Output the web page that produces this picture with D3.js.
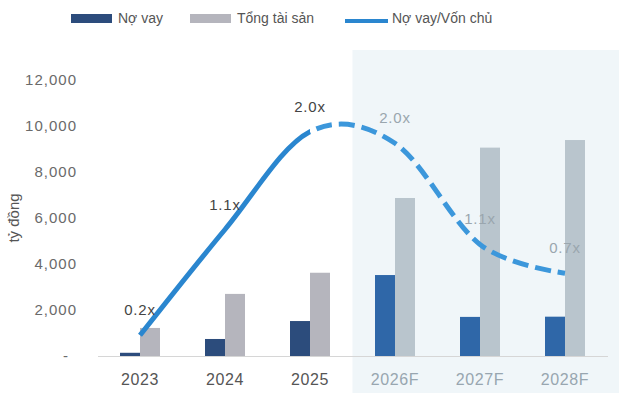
<!DOCTYPE html>
<html>
<head>
<meta charset="utf-8">
<script src="https://cdn.jsdelivr.net/npm/d3@7"></script>
<style>
  body { margin: 0; background: #fff; }
  svg { display: block; font-family: "Liberation Sans", Arial, sans-serif; }
</style>
</head>
<body>
<svg id="chart" width="619" height="393"></svg>
<script>
// Data
const years = ["2023", "2024", "2025", "2026F", "2027F", "2028F"];
const debt = [140, 740, 1520, 3520, 1700, 1710];        // Nợ vay, tỷ đồng
const assets = [1220, 2700, 3620, 6870, 9060, 9390];    // Tổng tài sản, tỷ đồng
const ratio = [0.18, 1.10, 1.95, 1.85, 0.97, 0.72];     // Nợ vay/Vốn chủ (line position)
const ratioLabels = ["0.2x", "1.1x", "2.0x", "2.0x", "1.1x", "0.7x"];
const yTicks = [0, 2000, 4000, 6000, 8000, 10000, 12000];
const seriesNames = ["Nợ vay", "Tổng tài sản", "Nợ vay/Vốn chủ"];

const isForecast = y => y.endsWith("F");

const svg = d3.select("#chart");

const x = d3.scaleBand().domain(years).range([97.5, 607.5]).padding(0);
const xSub = d3.scaleBand().domain(["debt", "assets"]).range([-20, 20]);
const y = d3.scaleLinear().domain([0, 12000]).range([356, 80]);
const yRatio = d3.scaleLinear().domain([0, 2.4]).range([356, 80]);
const cx = d => x(d) + x.bandwidth() / 2;

// forecast shading
const firstF = years.find(isForecast);
svg.append("rect")
  .attr("x", x(firstF))
  .attr("y", 50)
  .attr("width", 619 - x(firstF))
  .attr("height", 343)
  .attr("fill", "#f0f6f9");

// y axis
const yAxis = svg.append("g")
  .attr("transform", "translate(77,0)")
  .call(d3.axisLeft(y).tickValues(yTicks).tickSize(0).tickPadding(0)
    .tickFormat(d => d === 0 ? "-" : d3.format(",")(d)));
yAxis.select(".domain").remove();
yAxis.selectAll("text")
  .attr("fill", "#6a6a6a")
  .style("font-size", "15px")
  .style("letter-spacing", "1px")
  .attr("font-family", null);
yAxis.selectAll(".tick").filter(d => d === 0).select("text").attr("x", -8);

svg.append("text")
  .attr("transform", "translate(19,218) rotate(-90)")
  .attr("text-anchor", "middle")
  .attr("fill", "#555")
  .style("font-size", "15px")
  .text("tỷ đồng");

// x axis
const xAxis = svg.append("g")
  .attr("transform", "translate(0,356)")
  .call(d3.axisBottom(x).tickSize(0).tickSizeOuter(0).tickPadding(0));
xAxis.select(".domain").attr("stroke", "#d6d6d6").attr("stroke-width", 1);
xAxis.selectAll("text")
  .attr("y", 29)
  .attr("dy", null)
  .attr("fill", d => isForecast(d) ? "#98a6b0" : "#555")
  .style("font-size", "16px")
  .style("letter-spacing", "0.6px")
  .attr("font-family", null);

// bars
const barColor = {
  debt: ["#2c4c7c", "#2f67a8"],
  assets: ["#b5b5bd", "#b9c5cd"]
};
const rows = years.map((yr, i) => ({ yr, debt: debt[i], assets: assets[i] }));
["debt", "assets"].forEach(key => {
  svg.append("g").selectAll("rect")
    .data(rows)
    .enter()
    .append("rect")
    .attr("x", d => cx(d.yr) + xSub(key))
    .attr("width", xSub.bandwidth())
    .attr("y", d => y(d[key]))
    .attr("height", d => y(0) - y(d[key]))
    .attr("fill", d => barColor[key][isForecast(d.yr) ? 1 : 0]);
});

// ratio line: solid for actual years, dashed for forecast
const splitX = cx(years.filter(yr => !isForecast(yr)).pop());
const defs = svg.append("defs");
defs.append("clipPath").attr("id", "clip-solid")
  .append("rect").attr("x", 0).attr("y", 0).attr("width", splitX).attr("height", 393);
defs.append("clipPath").attr("id", "clip-dash")
  .append("rect").attr("x", splitX).attr("y", 0).attr("width", 619 - splitX).attr("height", 393);

const line = d3.line()
  .x((d, i) => cx(years[i]))
  .y(d => yRatio(d))
  .curve(d3.curveCardinal.tension(0));

svg.append("path")
  .datum(ratio)
  .attr("d", line)
  .attr("fill", "none")
  .attr("stroke", "#2a86cf")
  .attr("stroke-width", 5)
  .attr("clip-path", "url(#clip-solid)");

svg.append("path")
  .datum(ratio)
  .attr("d", line)
  .attr("fill", "none")
  .attr("stroke", "#3c97db")
  .attr("stroke-width", 5)
  .attr("stroke-dasharray", "16,7")
  .attr("stroke-dashoffset", 3)
  .attr("clip-path", "url(#clip-dash)");

// ratio labels
svg.append("g").selectAll("text")
  .data(ratio)
  .enter()
  .append("text")
  .attr("x", (d, i) => cx(years[i]))
  .attr("y", d => yRatio(d) - 20)
  .attr("text-anchor", "middle")
  .attr("fill", (d, i) => isForecast(years[i]) ? "#9aa6ae" : "#444")
  .style("font-size", "15px")
  .style("letter-spacing", "0.8px")
  .text((d, i) => ratioLabels[i]);

// legend
const legend = svg.append("g");
const legendX = [71, 190, 345];
const textX = [118, 237, 392];
legend.append("rect").attr("x", legendX[0]).attr("y", 14).attr("width", 41).attr("height", 9).attr("fill", "#2c4c7c");
legend.append("rect").attr("x", legendX[1]).attr("y", 14).attr("width", 41).attr("height", 9).attr("fill", "#b5b5bd");
legend.append("line").attr("x1", legendX[2]).attr("x2", legendX[2] + 43)
  .attr("y1", 21).attr("y2", 21).attr("stroke", "#2a86cf").attr("stroke-width", 4);
legend.selectAll("text")
  .data(seriesNames)
  .enter()
  .append("text")
  .attr("x", (d, i) => textX[i])
  .attr("y", 23)
  .attr("fill", "#555")
  .style("font-size", "14px")
  .text(d => d);
</script>
</body>
</html>
